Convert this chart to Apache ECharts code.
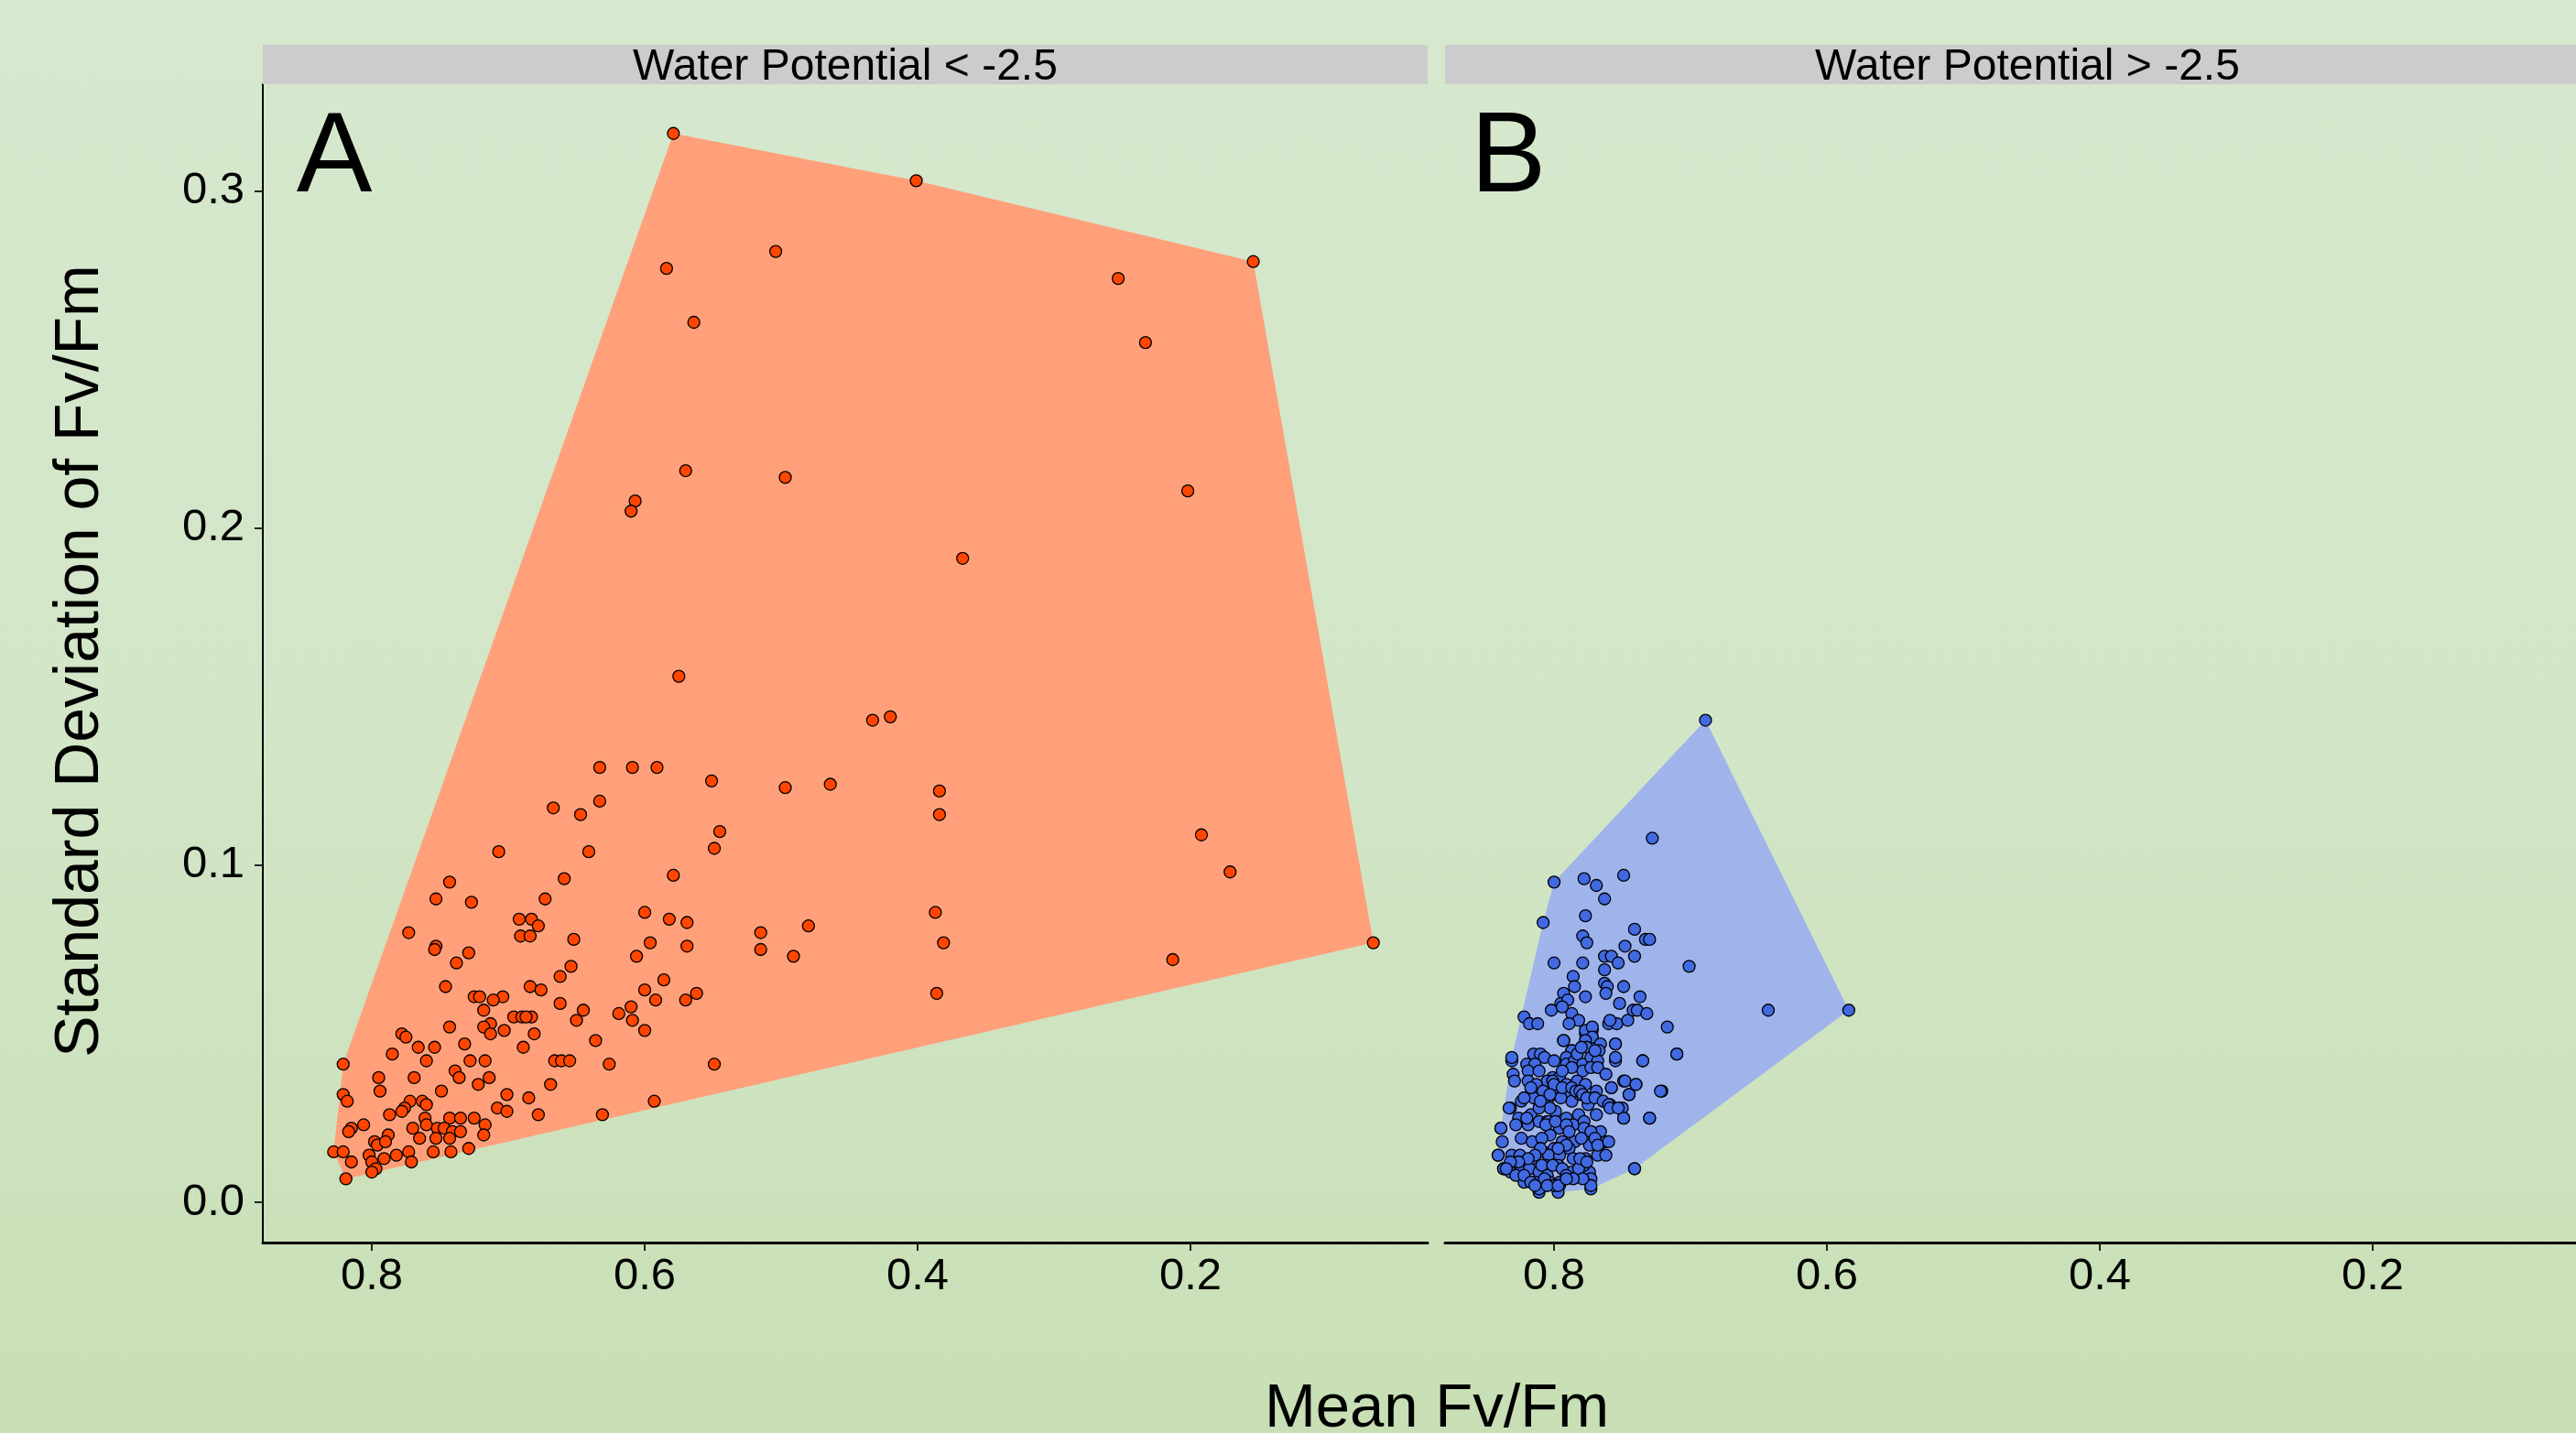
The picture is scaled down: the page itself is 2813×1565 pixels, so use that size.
<!DOCTYPE html>
<html><head><meta charset="utf-8">
<script src="https://cdn.jsdelivr.net/npm/echarts@6/dist/echarts.min.js"></script>
<style>html,body{margin:0;padding:0;width:2813px;height:1565px;overflow:hidden}#c{width:2813px;height:1565px}</style>
</head><body><div id="c"></div>
<script>
const panelTitles = ['Water Potential < -2.5', 'Water Potential > -2.5'];
const panelLetters = ['A', 'B'];
const xTicks = [0.2, 0.4, 0.6, 0.8];
const yTicks = [0, 0.1, 0.2, 0.3];
const xAxisTitle = 'Mean Fv/Fm';
const yAxisTitle = 'Standard Deviation of Fv/Fm';

// Panel A: water potential < -2.5  [mean Fv/Fm, sd Fv/Fm]
const dryPoints = [
[0.579,0.317],[0.401,0.303],[0.154,0.279],[0.504,0.282],[0.584,0.277],[0.253,0.274],[0.564,0.261],[0.233,0.255],[0.570,0.217],[0.497,0.215],
[0.202,0.211],[0.607,0.208],[0.610,0.205],[0.367,0.191],[0.575,0.156],[0.433,0.143],[0.420,0.144],[0.066,0.077],[0.192,0.109],[0.171,0.098],
[0.213,0.072],[0.384,0.122],[0.384,0.115],[0.387,0.086],[0.381,0.077],[0.386,0.062],[0.464,0.124],[0.497,0.123],[0.480,0.082],[0.491,0.073],
[0.515,0.080],[0.515,0.075],[0.549,0.041],[0.551,0.125],[0.545,0.110],[0.549,0.105],[0.593,0.030],[0.633,0.129],[0.609,0.129],[0.591,0.129],
[0.667,0.117],[0.647,0.115],[0.633,0.119],[0.707,0.104],[0.641,0.104],[0.579,0.097],[0.659,0.096],[0.743,0.095],[0.753,0.090],[0.727,0.089],
[0.673,0.090],[0.600,0.086],[0.582,0.084],[0.569,0.083],[0.773,0.080],[0.692,0.084],[0.683,0.084],[0.678,0.082],[0.691,0.079],[0.684,0.079],
[0.652,0.078],[0.596,0.077],[0.606,0.073],[0.569,0.076],[0.753,0.076],[0.754,0.075],[0.729,0.074],[0.738,0.071],[0.654,0.070],[0.662,0.067],
[0.746,0.064],[0.684,0.064],[0.676,0.063],[0.586,0.066],[0.600,0.063],[0.562,0.062],[0.570,0.060],[0.592,0.060],[0.610,0.058],[0.609,0.054],
[0.600,0.051],[0.619,0.056],[0.645,0.057],[0.650,0.054],[0.662,0.059],[0.725,0.061],[0.721,0.061],[0.704,0.061],[0.711,0.060],[0.718,0.057],
[0.696,0.055],[0.690,0.055],[0.683,0.055],[0.687,0.055],[0.713,0.053],[0.718,0.052],[0.703,0.051],[0.713,0.050],[0.681,0.050],[0.743,0.052],
[0.778,0.050],[0.775,0.049],[0.766,0.046],[0.754,0.046],[0.732,0.047],[0.689,0.046],[0.636,0.048],[0.785,0.044],[0.760,0.042],[0.728,0.042],
[0.717,0.042],[0.666,0.042],[0.661,0.042],[0.655,0.042],[0.626,0.041],[0.821,0.041],[0.739,0.039],[0.795,0.037],[0.769,0.037],[0.736,0.037],
[0.714,0.037],[0.794,0.033],[0.722,0.035],[0.669,0.035],[0.749,0.033],[0.701,0.032],[0.821,0.032],[0.818,0.030],[0.685,0.031],[0.772,0.030],
[0.763,0.030],[0.760,0.029],[0.776,0.028],[0.778,0.027],[0.708,0.028],[0.701,0.027],[0.787,0.026],[0.761,0.025],[0.743,0.025],[0.735,0.025],
[0.725,0.025],[0.678,0.026],[0.631,0.026],[0.806,0.023],[0.815,0.022],[0.817,0.021],[0.770,0.022],[0.760,0.023],[0.752,0.022],[0.747,0.022],
[0.741,0.021],[0.735,0.021],[0.717,0.023],[0.718,0.020],[0.788,0.020],[0.765,0.019],[0.753,0.019],[0.743,0.019],[0.798,0.018],[0.796,0.017],
[0.790,0.018],[0.828,0.015],[0.821,0.015],[0.773,0.015],[0.755,0.015],[0.742,0.015],[0.729,0.016],[0.802,0.014],[0.791,0.013],[0.782,0.014],
[0.815,0.012],[0.800,0.012],[0.771,0.012],[0.797,0.010],[0.800,0.009],[0.819,0.007]
];

// Panel B: water potential > -2.5  [mean Fv/Fm, sd Fv/Fm]
const wetPoints = [
[0.689,0.143],[0.728,0.108],[0.800,0.095],[0.778,0.096],[0.769,0.094],[0.749,0.097],[0.763,0.090],[0.777,0.085],[0.808,0.083],[0.741,0.081],
[0.779,0.079],[0.776,0.077],[0.748,0.076],[0.733,0.078],[0.730,0.078],[0.741,0.073],[0.800,0.071],[0.779,0.071],[0.763,0.073],[0.758,0.073],
[0.753,0.071],[0.763,0.069],[0.701,0.070],[0.643,0.057],[0.584,0.057],[0.786,0.067],[0.785,0.064],[0.763,0.065],[0.761,0.064],[0.762,0.062],
[0.749,0.064],[0.777,0.061],[0.793,0.062],[0.795,0.059],[0.752,0.059],[0.737,0.061],[0.802,0.057],[0.822,0.055],[0.818,0.053],[0.812,0.053],
[0.787,0.056],[0.782,0.054],[0.789,0.053],[0.760,0.053],[0.754,0.053],[0.746,0.054],[0.742,0.057],[0.739,0.057],[0.732,0.056],[0.717,0.052],
[0.772,0.051],[0.777,0.050],[0.772,0.049],[0.793,0.048],[0.755,0.047],[0.755,0.042],[0.787,0.045],[0.710,0.044],[0.735,0.042],[0.831,0.042],
[0.721,0.033],[0.730,0.025],[0.749,0.036],[0.740,0.035],[0.745,0.032],[0.758,0.034],[0.749,0.025],[0.751,0.028],[0.741,0.010],[0.773,0.004],
[0.796,0.005],[0.811,0.003],[0.841,0.014],[0.839,0.022],[0.837,0.010],[0.832,0.028],[0.790,0.060],[0.794,0.058],[0.777,0.051],[0.772,0.052],
[0.759,0.054],
[0.793,0.048],[0.772,0.049],[0.766,0.047],[0.777,0.048],[0.776,0.046],[0.787,0.045],[0.755,0.047],[0.767,0.045],
[0.831,0.043],[0.815,0.044],[0.810,0.044],[0.807,0.043],[0.800,0.042],[0.820,0.041],[0.814,0.041],[0.791,0.043],[0.791,0.041],[0.785,0.042],
[0.779,0.041],[0.773,0.043],[0.768,0.042],[0.755,0.043],[0.735,0.042],[0.710,0.044],
[0.830,0.038],[0.819,0.039],[0.811,0.039],[0.829,0.036],[0.819,0.036],[0.801,0.037],[0.805,0.036],[0.796,0.037],[0.779,0.039],[0.773,0.040],
[0.768,0.040],[0.762,0.038],[0.783,0.036],[0.777,0.035],[0.748,0.036],[0.740,0.035],[0.722,0.033],
[0.815,0.031],[0.804,0.031],[0.798,0.033],[0.791,0.032],[0.787,0.030],[0.781,0.032],[0.769,0.033],[0.758,0.034],[0.745,0.032],[0.824,0.030],
[0.807,0.029],[0.795,0.031],
[0.833,0.028],[0.826,0.025],[0.817,0.026],[0.811,0.024],[0.799,0.027],[0.791,0.025],[0.782,0.026],[0.775,0.029],[0.769,0.026],[0.759,0.029],
[0.750,0.028],[0.749,0.025],[0.730,0.025],
[0.839,0.022],[0.828,0.023],[0.819,0.023],[0.805,0.024],[0.796,0.022],[0.786,0.023],[0.778,0.024],[0.773,0.021],[0.766,0.021],[0.803,0.020],
[0.838,0.018],[0.824,0.019],[0.816,0.018],[0.809,0.019],[0.794,0.018],[0.785,0.018],[0.774,0.017],[0.767,0.017],[0.762,0.018],[0.789,0.016],
[0.808,0.015],[0.800,0.016],
[0.841,0.014],[0.831,0.014],[0.816,0.013],[0.825,0.014],[0.804,0.014],[0.796,0.014],[0.786,0.013],[0.777,0.013],[0.768,0.014],[0.762,0.014],
[0.806,0.011],[0.797,0.011],[0.837,0.010],[0.824,0.010],[0.818,0.010],
[0.832,0.009],[0.822,0.006],[0.811,0.009],[0.805,0.008],[0.796,0.006],[0.787,0.009],[0.774,0.009],[0.773,0.007],[0.778,0.011],[0.814,0.006],
[0.811,0.004],[0.797,0.003],[0.773,0.005],[0.741,0.010],[0.803,0.006],
[0.801,0.036],[0.800,0.035],[0.791,0.035],[0.794,0.034],[0.787,0.034],[0.784,0.033],[0.781,0.033],[0.779,0.032],[0.776,0.031],[0.770,0.031],
[0.764,0.030],[0.760,0.029],[0.759,0.028],[0.753,0.028],[0.807,0.029],[0.803,0.028],[0.811,0.028],[0.820,0.025],[0.804,0.024],[0.806,0.023],
[0.799,0.024],[0.791,0.023],[0.789,0.021],[0.778,0.022],[0.773,0.021],[0.780,0.019],[0.770,0.019],[0.768,0.017],[0.760,0.018],[0.791,0.017],
[0.797,0.016],[0.810,0.016],[0.814,0.014],[0.819,0.013],[0.826,0.012],[0.832,0.012],[0.835,0.010],[0.828,0.008],[0.809,0.011],[0.801,0.011],
[0.794,0.010],[0.791,0.008],[0.782,0.010],[0.781,0.013],[0.776,0.012],[0.779,0.007],[0.786,0.007],[0.800,0.005],[0.807,0.007],[0.822,0.008],
[0.817,0.006],[0.814,0.005],[0.805,0.005],[0.797,0.005],[0.791,0.007],
[0.813,0.035],[0.808,0.033],[0.817,0.034],[0.822,0.031],[0.803,0.032],[0.810,0.030],
[0.783,0.044],[0.780,0.046],[0.770,0.045],[0.787,0.040],[0.794,0.039]
];

function convexHull(points) {
  const p = points.slice().sort((a, b) => a[0] - b[0] || a[1] - b[1]);
  const cross = (o, a, b) => (a[0] - o[0]) * (b[1] - o[1]) - (a[1] - o[1]) * (b[0] - o[0]);
  const lower = [], upper = [];
  for (const q of p) { while (lower.length >= 2 && cross(lower[lower.length - 2], lower[lower.length - 1], q) <= 0) lower.pop(); lower.push(q); }
  for (let i = p.length - 1; i >= 0; i--) { const q = p[i]; while (upper.length >= 2 && cross(upper[upper.length - 2], upper[upper.length - 1], q) <= 0) upper.pop(); upper.push(q); }
  upper.pop(); lower.pop();
  return lower.concat(upper);
}

const FONT = '"Liberation Sans", Arial, Helvetica, sans-serif';
const Y_MIN = -0.0119, Y_MAX = 0.3316;
const gridsPx = [ {left: 287, top: 92, width: 1272, height: 1265}, {left: 1578, top: 92, width: 1235, height: 1265} ];
const xRanges = [ [0.0262, 0.8799], [0.0510, 0.8799] ];
const pointColors = ['#FF4500', '#4169E1'];
const hullColors = ['#FFA07A', '#9FB4EB'];
const allData = [dryPoints, wetPoints];

const chart = echarts.init(document.getElementById('c'), null, {renderer: 'canvas'});

const xAxes = [0, 1].map(i => ({
  gridIndex: i, type: 'value', inverse: true, min: xRanges[i][0], max: xRanges[i][1],
  axisLine: {show: true, onZero: false, lineStyle: {color: '#000', width: 3}},
  axisTick: {show: true, customValues: xTicks, length: 9, lineStyle: {color: '#222', width: 2}},
  axisLabel: {show: true, customValues: xTicks, formatter: v => v.toFixed(1), fontSize: 49, color: '#000', fontFamily: FONT, margin: 13},
  splitLine: {show: false}
}));
const yAxes = [0, 1].map(i => ({
  gridIndex: i, type: 'value', min: Y_MIN, max: Y_MAX, show: i === 0,
  axisLine: {show: true, onZero: false, lineStyle: {color: '#000', width: 2}},
  axisTick: {show: true, customValues: yTicks, length: 9, lineStyle: {color: '#222', width: 2}},
  axisLabel: {show: true, customValues: yTicks, formatter: v => v.toFixed(1), fontSize: 49, color: '#000', fontFamily: FONT, margin: 20},
  splitLine: {show: false}
}));

const series = [];
[0, 1].forEach(i => {
  const hullPts = convexHull(allData[i]);
  series.push({
    type: 'custom', xAxisIndex: i, yAxisIndex: i, silent: true, z: 1,
    data: [hullPts[0]],
    renderItem: (params, api) => ({
      type: 'polygon',
      shape: {points: hullPts.map(p => api.coord(p))},
      style: {fill: hullColors[i], stroke: null}
    })
  });
  series.push({
    type: 'scatter', xAxisIndex: i, yAxisIndex: i, z: 2,
    data: allData[i], symbol: 'circle', symbolSize: 13,
    itemStyle: {color: pointColors[i], borderColor: '#000', borderWidth: 1.3, opacity: 1}
  });
});

const graphics = [];
[0, 1].forEach(i => {
  const g = gridsPx[i];
  graphics.push({type: 'rect', shape: {x: g.left, y: 49, width: g.width, height: 43}, style: {fill: '#CCCCCC'}, z: 10});
});
graphics.push({type: 'text', x: 923, y: 74, style: {text: panelTitles[0], font: '48px ' + FONT, fill: '#000', align: 'center', verticalAlign: 'middle'}, z: 11});
graphics.push({type: 'text', x: 2214, y: 74, style: {text: panelTitles[1], font: '48px ' + FONT, fill: '#000', align: 'center', verticalAlign: 'middle'}, z: 11});
graphics.push({type: 'text', x: 365, y: 175, style: {text: panelLetters[0], font: '124px ' + FONT, fill: '#000', align: 'center', verticalAlign: 'middle'}, z: 11});
graphics.push({type: 'text', x: 1647, y: 175, style: {text: panelLetters[1], font: '124px ' + FONT, fill: '#000', align: 'center', verticalAlign: 'middle'}, z: 11});
graphics.push({type: 'text', x: 1569, y: 1540, style: {text: xAxisTitle, font: '67px ' + FONT, fill: '#000', align: 'center', verticalAlign: 'middle'}, z: 11});
graphics.push({type: 'text', x: 88, y: 722, rotation: Math.PI / 2, style: {text: yAxisTitle, font: '68px ' + FONT, fill: '#000', align: 'center', verticalAlign: 'middle'}, z: 11});

chart.setOption({
  animation: false,
  backgroundColor: new echarts.graphic.LinearGradient(0, 0, 0, 1, [
    {offset: 0, color: '#D6E8CD'}, {offset: 0.5, color: '#D3E6C8'}, {offset: 1, color: '#C8DFB5'}
  ]),
  grid: gridsPx.map(g => Object.assign({containLabel: false}, g)),
  xAxis: xAxes,
  yAxis: yAxes,
  series: series,
  graphic: graphics
});
</script>
</body></html>
